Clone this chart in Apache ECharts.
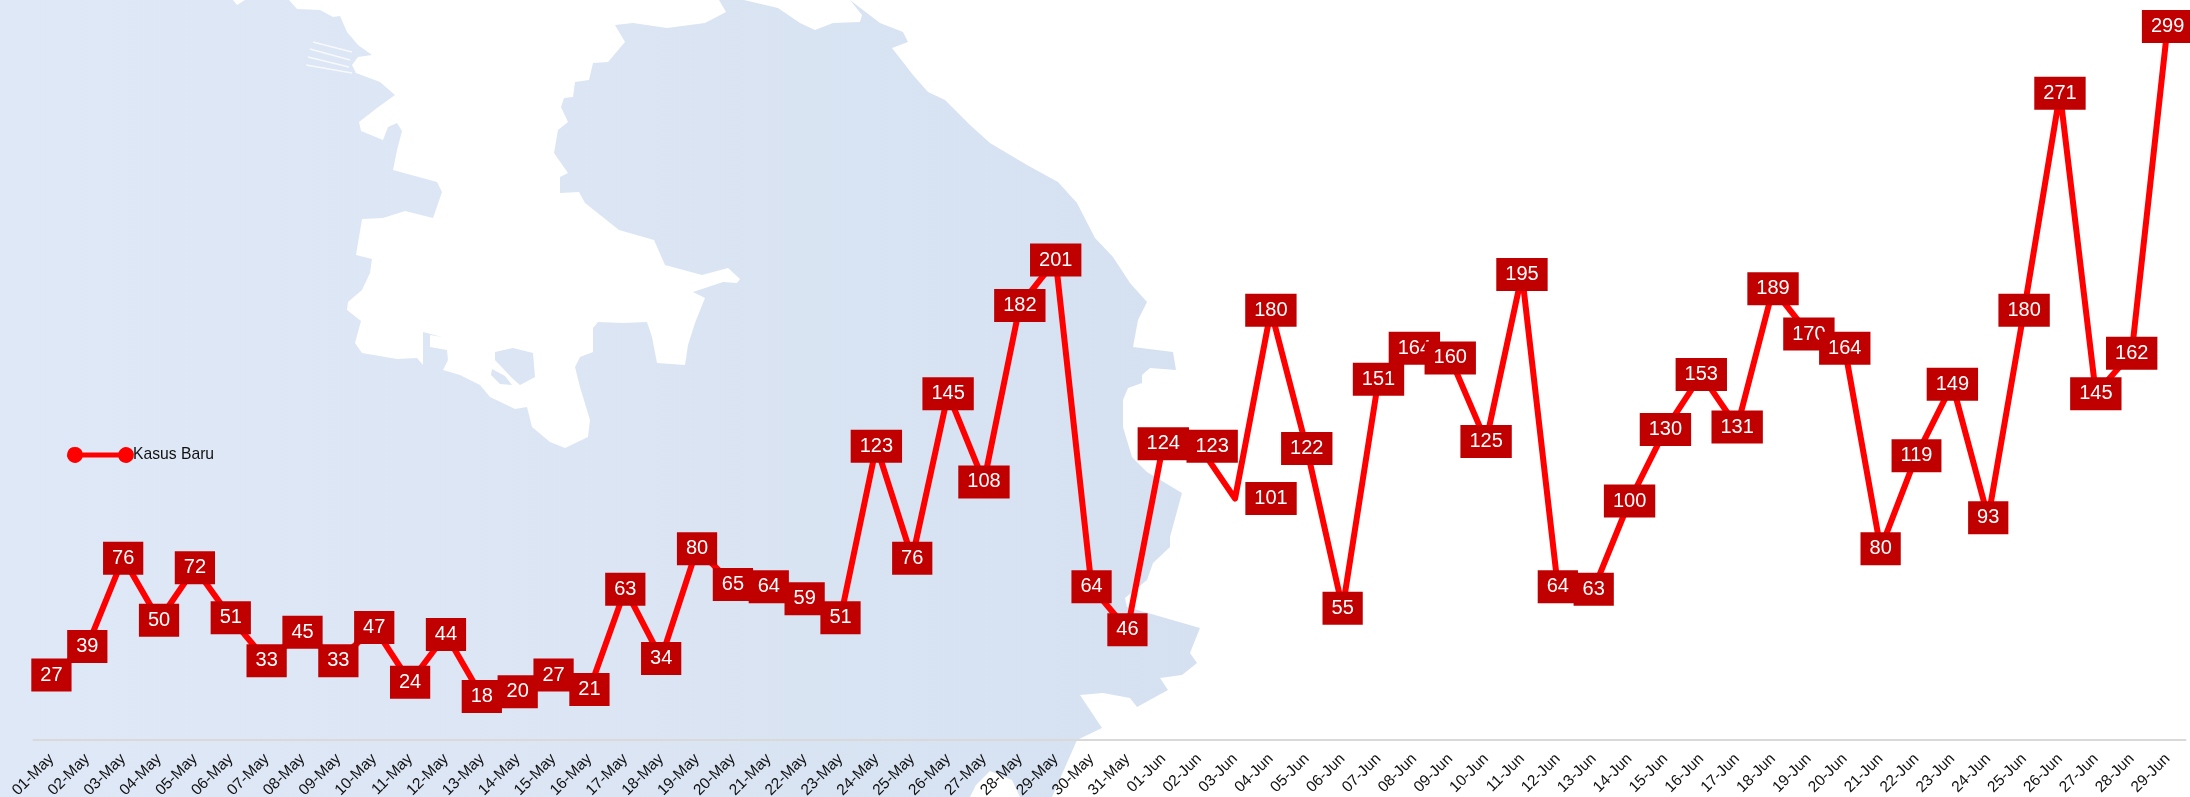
<!DOCTYPE html>
<html lang="en">
<head>
    <meta charset="UTF-8">
    <title>Kasus Baru</title>
    <script src="https://cdn.jsdelivr.net/npm/echarts@6/dist/echarts.min.js"></script>
    <style>
        html, body { margin: 0; padding: 0; background: #fff; }
        #chart { width: 2190px; height: 797px; }
    </style>
</head>
<body>
<div id="chart"></div>
<script>
    const mayDays = ['01-May','02-May','03-May','04-May','05-May','06-May','07-May','08-May','09-May','10-May',
        '11-May','12-May','13-May','14-May','15-May','16-May','17-May','18-May','19-May','20-May','21-May',
        '22-May','23-May','24-May','25-May','26-May','27-May','28-May','29-May','30-May','31-May']
    const junDays = ['01-Jun','02-Jun','03-Jun','04-Jun','05-Jun','06-Jun','07-Jun','08-Jun','09-Jun','10-Jun',
        '11-Jun','12-Jun','13-Jun','14-Jun','15-Jun','16-Jun','17-Jun','18-Jun','19-Jun','20-Jun','21-Jun',
        '22-Jun','23-Jun','24-Jun','25-Jun','26-Jun','27-Jun','28-Jun','29-Jun']
    const mayCases = [27,39,76,50,72,51,33,45,33,47,24,44,18,20,27,21,63,34,80,65,64,59,51,123,76,145,108,182,201,64,46]
    const junCases = [124,123,101,180,122,55,151,164,160,125,195,64,63,100,130,153,131,189,170,164,80,119,149,93,180,271,145,162,299]

    const categories = mayDays.concat(junDays)
    const newCases = mayCases.concat(junCases)

    // two labels were dragged off their points in the original
    const labelShift = { 32: [13, 0], 33: [36, 0] }

    // faded map behind the chart, traced by hand in page pixels
    const mapOutline = [[0,0],[233,0],[237,5],[245,0],[289,0],[297,9],[320,10],[333,17],[340,16],[347,32],[358,45],[372,55],
        [358,57],[352,65],[356,73],[380,82],[395,95],[377,108],[359,122],[361,131],[383,140],[388,127],[397,123],[402,131],
        [397,150],[393,170],[437,182],[442,192],[433,218],[405,211],[383,218],[362,219],[356,255],[372,259],[370,273],
        [362,290],[348,302],[347,310],[361,321],[355,343],[362,353],[397,359],[417,358],[423,365],[423,332],[442,337],
        [430,335],[430,347],[447,350],[448,360],[443,370],[460,375],[480,385],[490,397],[515,409],[527,407],[532,427],
        [550,442],[565,448],[588,437],[590,420],[580,387],[575,367],[580,357],[593,352],[593,328],[598,322],[623,323],
        [647,322],[652,337],[657,363],[685,365],[688,345],[695,323],[705,298],[693,292],[723,282],[737,283],[740,279],
        [728,268],[702,275],[665,265],[654,240],[619,230],[585,203],[579,192],[560,193],[560,177],[568,173],[554,153],
        [558,130],[568,122],[561,107],[564,98],[573,97],[575,82],[589,80],[593,63],[608,62],[625,42],[615,25],[633,23],
        [667,28],[705,23],[726,12],[719,0],[744,0],[778,8],[800,23],[815,30],[833,23],[860,22],[862,15],[850,0],[863,10],
        [880,23],[903,32],[908,42],[892,48],[913,75],[928,92],[945,100],[970,125],[990,143],[1027,165],[1058,182],[1077,203],
        [1095,238],[1113,257],[1130,283],[1147,302],[1138,320],[1133,347],[1173,352],[1176,370],[1150,368],[1142,375],
        [1142,383],[1128,388],[1123,400],[1123,427],[1132,457],[1147,472],[1182,493],[1170,537],[1170,547],[1153,563],
        [1147,580],[1125,598],[1127,607],[1148,613],[1200,628],[1190,653],[1197,663],[1182,675],[1160,678],[1168,690],
        [1137,707],[1130,698],[1103,693],[1080,695],[1102,728],[1077,740],[1052,797],[1020,797],[1012,780],[990,771],[976,785],[970,797],[0,797]]
    const mapCup = [[495,352],[513,348],[533,353],[535,377],[520,385],[512,378],[495,360]]
    const mapStrip = [[492,369],[505,376],[512,385],[500,384],[491,375]]
    const bookStripes = [[[313,42],[352,52]],[[310,49],[350,60]],[[308,57],[349,67]],[[306,65],[352,73]]]

    const mapFill = {
        type: 'linear', x: 0, y: 0, x2: 1, y2: 0,
        colorStops: [{ offset: 0, color: '#dfe8f6' }, { offset: 0.5, color: '#dbe5f4' }, { offset: 1, color: '#d5e1f1' }]
    }

    let mapGraphics = [
        { type: 'polygon', z: -10, silent: true, shape: { points: mapOutline }, style: { fill: mapFill } },
        { type: 'polygon', z: -10, silent: true, shape: { points: mapCup }, style: { fill: '#dbe5f4' } },
        { type: 'polygon', z: -10, silent: true, shape: { points: mapStrip }, style: { fill: '#dbe5f4' } }
    ]
    bookStripes.forEach(function (s) {
        mapGraphics.push({ type: 'polyline', z: -9, silent: true, shape: { points: s }, style: { stroke: '#f7f9fd', lineWidth: 1.6, fill: null } })
    })

    const chart = echarts.init(document.getElementById('chart'), null, { renderer: 'canvas' })
    chart.setOption({
        animation: false,
        backgroundColor: '#fff',
        textStyle: { fontFamily: '"Liberation Sans", Arial, sans-serif' },
        graphic: mapGraphics,
        legend: {
            left: 67,
            top: 447,
            padding: 0,
            itemWidth: 67,
            itemHeight: 16,
            data: [{
                name: 'Kasus Baru',
                icon: 'path://M8 0A8 8 0 0 1 15.5 5.5H51.5A8 8 0 1 1 51.5 10.5H15.5A8 8 0 1 1 8 0Z'
            }],
            textStyle: { color: '#111', fontSize: 15.7, padding: [0, 0, 0, -6] }
        },
        // outerBoundsMode none: v6 would otherwise squeeze the grid because the rotated labels touch the edge
        grid: { left: 33.5, top: 24, width: 2152, height: 715.5, outerBoundsMode: 'none' },
        xAxis: {
            type: 'category',
            data: categories,
            axisLine: { lineStyle: { color: '#d9d9d9', width: 2 } },
            axisTick: { show: false },
            axisLabel: { interval: 0, rotate: 45, fontSize: 15.5, color: '#111', margin: 17, fontFamily: '"Liberation Sans", Arial, sans-serif' }
        },
        yAxis: { type: 'value', min: 0, max: 300, show: false, splitLine: { show: false } },
        series: [{
            name: 'Kasus Baru',
            type: 'line',
            clip: false,
            symbol: 'circle',
            symbolSize: 1,
            showAllSymbol: true,
            itemStyle: { color: '#ff0000' },
            lineStyle: { color: '#ff0000', width: 6, join: 'round' },
            label: {
                show: true,
                position: 'inside',
                color: '#fff',
                fontSize: 20,
                backgroundColor: '#c00000',
                padding: [7, 9, 6, 9]
            },
            data: newCases.map(function (v, i) {
                if (labelShift[i]) return { value: v, label: { offset: labelShift[i] } }
                return v
            })
        }]
    })
</script>
</body>
</html>
